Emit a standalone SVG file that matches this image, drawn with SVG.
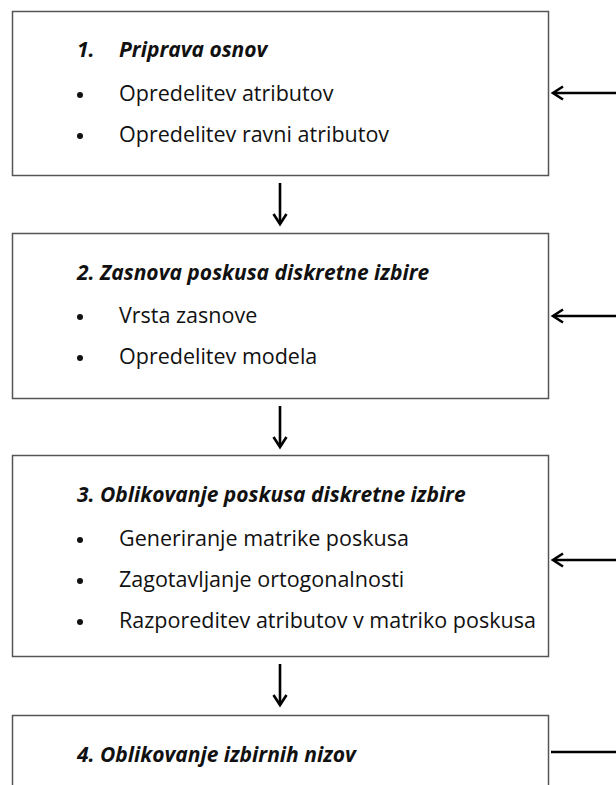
<svg xmlns="http://www.w3.org/2000/svg" width="616" height="785" viewBox="0 0 616 785">
<style>
.box{fill:#fff;stroke:#555;stroke-width:1.5}
.t{font-family:"Open Sans","Liberation Sans",sans-serif;font-size:21.5px;fill:#111}
.h{font-family:"Open Sans","Liberation Sans",sans-serif;font-size:21px;font-weight:bold;font-style:italic;fill:#111}
.b{fill:#111}
.c{fill:none;stroke:#000;stroke-width:2.6}
</style>
<rect width="616" height="785" fill="#fff"/>
<g id="node1">
<rect class="box" x="12.5" y="11.5" width="536" height="164"/>
<text class="h" x="77" y="57">1.</text>
<text class="h" x="119" y="57">Priprava osnov</text>
<circle class="b" cx="80" cy="95" r="3"/>
<text class="t" x="119" y="101">Opredelitev atributov</text>
<circle class="b" cx="80" cy="136" r="3"/>
<text class="t" x="119" y="142">Opredelitev ravni atributov</text>
</g>
<g id="node2">
<rect class="box" x="12.5" y="233.5" width="536" height="165"/>
<text class="h" x="77" y="280">2. Zasnova poskusa diskretne izbire</text>
<circle class="b" cx="80" cy="317" r="3"/>
<text class="t" x="119" y="323">Vrsta zasnove</text>
<circle class="b" cx="80" cy="358" r="3"/>
<text class="t" x="119" y="364">Opredelitev modela</text>
</g>
<g id="node3">
<rect class="box" x="12.5" y="455.5" width="536" height="201"/>
<text class="h" x="77" y="502">3. Oblikovanje poskusa diskretne izbire</text>
<circle class="b" cx="80" cy="540" r="3"/>
<text class="t" x="119" y="546">Generiranje matrike poskusa</text>
<circle class="b" cx="80" cy="581" r="3"/>
<text class="t" x="119" y="587">Zagotavljanje ortogonalnosti</text>
<circle class="b" cx="80" cy="622" r="3"/>
<text class="t" x="119" y="628">Razporeditev atributov v matriko poskusa</text>
</g>
<g id="node4">
<rect class="box" x="12.5" y="715.5" width="536" height="80"/>
<text class="h" x="77" y="762">4. Oblikovanje izbirnih nizov</text>
</g>
<g id="connectors">
<line class="c" x1="280" y1="183" x2="280" y2="224"/>
<polyline class="c" points="273.5,214 280,224 286.5,214"/>
<line class="c" x1="280" y1="406" x2="280" y2="447"/>
<polyline class="c" points="273.5,437 280,447 286.5,437"/>
<line class="c" x1="280" y1="664" x2="280" y2="705"/>
<polyline class="c" points="273.5,695 280,705 286.5,695"/>
<line class="c" x1="553" y1="93" x2="616" y2="93"/>
<polyline class="c" points="563,86.5 553,93 563,99.5"/>
<line class="c" x1="553" y1="316" x2="616" y2="316"/>
<polyline class="c" points="563,309.5 553,316 563,322.5"/>
<line class="c" x1="553" y1="560" x2="616" y2="560"/>
<polyline class="c" points="563,553.5 553,560 563,566.5"/>
<line class="c" x1="551" y1="752" x2="616" y2="752"/>
</g>
</svg>
